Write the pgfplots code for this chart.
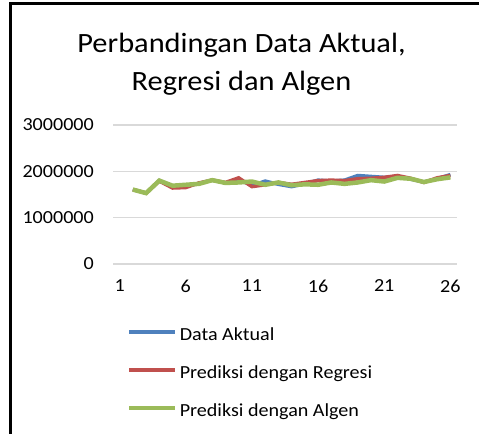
\documentclass[border=0pt]{standalone}
\usepackage{pgfplots}
\pgfplotsset{compat=1.18}
\usepackage{fontspec}
\setmainfont{Carlito}[FakeStretch=1.09]
\definecolor{cblue}{HTML}{4F81BD}
\definecolor{cred}{HTML}{C0504D}
\definecolor{cgreen}{HTML}{9BBB59}
\definecolor{cgrid}{HTML}{D9D9D9}
\begin{document}
\begin{tikzpicture}[x=1bp,y=1bp]
\path[use as bounding box] (0,0) rectangle (479,-434);
\draw[black, line width=3bp] (10,-434) -- (10,-4) -- (479,-4);
\node[font=\fontsize{28}{34}\selectfont, anchor=base, inner sep=0pt] at (241.5,-53) {Perbandingan Data Aktual,};
\node[font=\fontsize{28}{34}\selectfont, anchor=base, inner sep=0pt] at (241.5,-91) {Regresi dan Algen};
\begin{axis}[
  at={(113bp,-264bp)}, anchor=south west,
  scale only axis, width=344bp, height=139bp,
  xmin=0.5, xmax=26.5, ymin=0, ymax=3000000,
  xtick={1,6,11,16,21,26},
  ytick={0,1000000,2000000,3000000},
  scaled y ticks=false,
  /pgf/number format/.cd, fixed, precision=0, 1000 sep={}, assume math mode=true, /pgfplots/.cd,
  axis line style={draw=none},
  major tick length=0pt,
  ymajorgrids, grid style={color=cgrid, line width=1.2bp},
  tick label style={font=\fontsize{18.5}{22}\selectfont},
  yticklabel style={anchor=east, inner sep=0pt, xshift=-19bp},
  xticklabel style={anchor=north, inner sep=0pt, yshift=-15.5bp},
  legend style={at={(axis description cs:0.041,-0.458)}, anchor=north west, draw=none, fill=none, inner sep=0pt, row sep=21bp, column sep=3bp, font=\fontsize{18.5}{22}\selectfont, nodes={inner sep=0pt, text height=13bp, text depth=4bp}},
  legend cell align=left,
  legend image code/.code={\draw[#1, line width=3.5bp] (0bp,4.5bp) -- (46bp,4.5bp);},
]
\addplot[cblue, line width=3.5bp] coordinates {
(2,1607000)(3,1530000)(4,1800000)(5,1660000)(6,1680000)(7,1740000)(8,1810000)(9,1750000)(10,1830000)(11,1690000)(12,1790000)(13,1720000)(14,1670000)(15,1730000)(16,1810000)(17,1790000)(18,1810000)(19,1910000)(20,1890000)(21,1870000)(22,1890000)(23,1830000)(24,1770000)(25,1840000)(26,1930000)};
\addlegendentry{Data Aktual}
\addplot[cred, line width=3.5bp] coordinates {
(2,1607000)(3,1530000)(4,1790000)(5,1640000)(6,1650000)(7,1750000)(8,1810000)(9,1760000)(10,1860000)(11,1670000)(12,1710000)(13,1760000)(14,1720000)(15,1760000)(16,1800000)(17,1810000)(18,1800000)(19,1840000)(20,1850000)(21,1870000)(22,1910000)(23,1850000)(24,1760000)(25,1860000)(26,1910000)};
\addlegendentry{Prediksi dengan Regresi}
\addplot[cgreen, line width=4.5bp] coordinates {
(2,1607000)(3,1530000)(4,1800000)(5,1690000)(6,1710000)(7,1730000)(8,1810000)(9,1750000)(10,1760000)(11,1780000)(12,1710000)(13,1760000)(14,1700000)(15,1720000)(16,1710000)(17,1760000)(18,1730000)(19,1760000)(20,1810000)(21,1780000)(22,1860000)(23,1840000)(24,1770000)(25,1830000)(26,1870000)};
\addlegendentry{Prediksi dengan Algen}
\end{axis}
\end{tikzpicture}
\end{document}
